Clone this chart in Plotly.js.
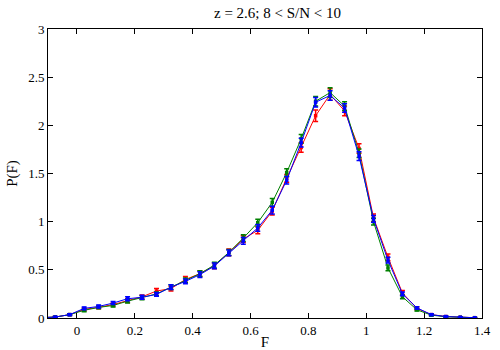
<!DOCTYPE html>
<html>
<head>
<meta charset="utf-8">
<script src="https://cdn.plot.ly/plotly-3.0.1.min.js"></script>
<style>
  html, body { margin: 0; padding: 0; background: #fff; }
  #chart { width: 500px; height: 350px; }
</style>
</head>
<body>
<div id="chart"></div>
<script>
const fValues = [-0.125, -0.075, -0.025, 0.025, 0.075, 0.125, 0.175, 0.225, 0.275, 0.325, 0.375,
  0.425, 0.475, 0.525, 0.575, 0.625, 0.675, 0.725, 0.775, 0.825, 0.875,
  0.925, 0.975, 1.025, 1.075, 1.125, 1.175, 1.225, 1.275, 1.325, 1.375];

const redP = [0.003, 0.01, 0.035, 0.09, 0.11, 0.14, 0.18, 0.22, 0.28, 0.305, 0.40,
  0.46, 0.54, 0.68, 0.82, 0.91, 1.11, 1.45, 1.77, 2.10, 2.32,
  2.15, 1.76, 1.04, 0.63, 0.26, 0.10, 0.035, 0.015, 0.008, 0.003];
const redErr = [0.003, 0.005, 0.01, 0.015, 0.015, 0.015, 0.02, 0.02, 0.025, 0.025, 0.03,
  0.03, 0.03, 0.035, 0.035, 0.035, 0.04, 0.04, 0.05, 0.06, 0.06,
  0.05, 0.05, 0.04, 0.035, 0.025, 0.015, 0.01, 0.005, 0.004, 0.003];

const greenP = [0.003, 0.01, 0.035, 0.08, 0.11, 0.13, 0.175, 0.21, 0.25, 0.32, 0.39,
  0.46, 0.55, 0.68, 0.83, 0.99, 1.20, 1.51, 1.86, 2.25, 2.34,
  2.20, 1.71, 1.00, 0.52, 0.22, 0.085, 0.03, 0.013, 0.007, 0.003];
const greenErr = [0.003, 0.005, 0.01, 0.015, 0.015, 0.015, 0.02, 0.02, 0.02, 0.025, 0.025,
  0.03, 0.03, 0.03, 0.035, 0.035, 0.04, 0.04, 0.045, 0.05, 0.05,
  0.045, 0.045, 0.035, 0.03, 0.02, 0.012, 0.008, 0.005, 0.004, 0.003];

const blueP = [0.003, 0.01, 0.035, 0.10, 0.12, 0.155, 0.20, 0.215, 0.245, 0.32, 0.38,
  0.45, 0.54, 0.675, 0.80, 0.935, 1.12, 1.43, 1.82, 2.24, 2.31,
  2.18, 1.68, 1.03, 0.60, 0.25, 0.105, 0.035, 0.015, 0.008, 0.003];
const blueErr = [0.003, 0.005, 0.01, 0.015, 0.015, 0.015, 0.02, 0.02, 0.02, 0.025, 0.025,
  0.03, 0.03, 0.03, 0.035, 0.035, 0.04, 0.04, 0.045, 0.05, 0.05,
  0.045, 0.045, 0.035, 0.03, 0.02, 0.012, 0.008, 0.005, 0.004, 0.003];

const serif = "Liberation Serif";

const makeTrace = (y, err, color) => ({
  x: fValues,
  y: y,
  mode: "lines+markers",
  line: { color: color, width: 1 },
  marker: { color: color, size: 3.5, symbol: "square" },
  error_y: { type: "data", array: err, visible: true, color: color, thickness: 1.5, width: 2.5 },
  showlegend: false
});

const data = [
  makeTrace(redP, redErr, "#ff0000"),
  makeTrace(greenP, greenErr, "#008000"),
  makeTrace(blueP, blueErr, "#0000ff")
];

const axisCommon = {
  showgrid: false,
  zeroline: false,
  showline: true,
  linecolor: "#000",
  linewidth: 1,
  mirror: "ticks",
  ticks: "inside",
  ticklen: 5,
  tickcolor: "#000",
  tickfont: { family: serif, size: 13, color: "#000" }
};

const layout = {
  width: 500,
  height: 350,
  margin: { l: 48, r: 18, t: 29, b: 32 },
  paper_bgcolor: "#fff",
  plot_bgcolor: "#fff",
  font: { family: serif, color: "#000" },
  title: {
    text: "z = 2.6; 8 < S/N < 10",
    font: { family: serif, size: 15, color: "#000" },
    x: 0.555, xanchor: "center",
    y: 0.965, yanchor: "middle"
  },
  xaxis: Object.assign({}, axisCommon, {
    range: [-0.1, 1.4],
    tick0: 0,
    dtick: 0.2,
    title: { text: "F", font: { family: serif, size: 15 }, standoff: 3 }
  }),
  yaxis: Object.assign({}, axisCommon, {
    range: [0, 3],
    tick0: 0,
    dtick: 0.5,
    title: { text: "P(F)", font: { family: serif, size: 15 }, standoff: 6 }
  })
};

Plotly.newPlot("chart", data, layout, { displayModeBar: false, staticPlot: true });
</script>
</body>
</html>
